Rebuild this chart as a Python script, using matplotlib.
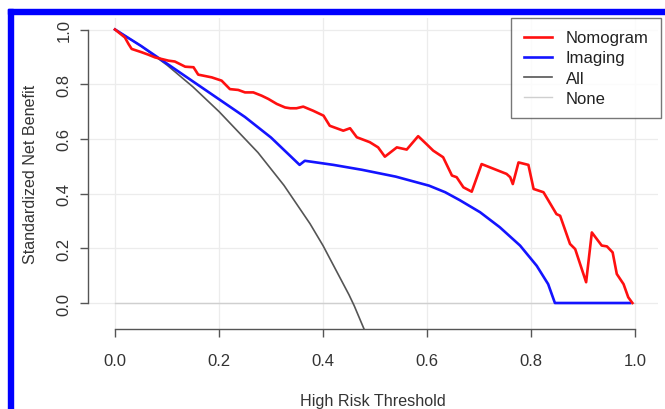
import matplotlib
matplotlib.use("Agg")
from matplotlib import pyplot as plt
from matplotlib.patches import Rectangle

plt.rcParams['font.family'] = ['Liberation Sans', 'DejaVu Sans']

# 数据
nomogram_x = [0, 0.019, 0.026, 0.032, 0.051, 0.064, 0.077, 0.103, 0.115, 0.135, 0.151, 0.16, 0.186,
              0.205, 0.221, 0.237, 0.25, 0.266, 0.282, 0.295, 0.311, 0.327, 0.337, 0.349, 0.362,
              0.381, 0.401, 0.413, 0.439, 0.452, 0.465, 0.49, 0.506, 0.519, 0.542, 0.561, 0.583,
              0.599, 0.612, 0.631, 0.648, 0.657, 0.670, 0.686, 0.705, 0.753, 0.760, 0.765, 0.776,
              0.795, 0.805, 0.824, 0.849, 0.856, 0.875, 0.885, 0.906, 0.917, 0.936, 0.946, 0.957,
              0.965, 0.978, 0.987, 0.995]
nomogram_y = [1.0, 0.971, 0.947, 0.929, 0.917, 0.908, 0.898, 0.886, 0.883, 0.864, 0.862, 0.835, 0.825,
              0.813, 0.782, 0.779, 0.770, 0.770, 0.758, 0.746, 0.728, 0.715, 0.712, 0.712, 0.718,
              0.703, 0.685, 0.648, 0.630, 0.639, 0.606, 0.588, 0.569, 0.535, 0.569, 0.561, 0.610,
              0.581, 0.557, 0.533, 0.466, 0.460, 0.423, 0.407, 0.508, 0.472, 0.460, 0.435, 0.514,
              0.505, 0.417, 0.405, 0.325, 0.319, 0.216, 0.197, 0.076, 0.258, 0.210, 0.207, 0.185,
              0.106, 0.069, 0.021, 0.0]

imaging_x = [0, 0.05, 0.1, 0.15, 0.2, 0.25, 0.3, 0.355, 0.365, 0.42, 0.475, 0.54, 0.604, 0.635,
             0.663, 0.702, 0.74, 0.779, 0.811, 0.833, 0.846, 0.99]
imaging_y = [1.0, 0.94, 0.875, 0.81, 0.745, 0.68, 0.605, 0.505, 0.52, 0.505, 0.487, 0.462, 0.429,
             0.405, 0.376, 0.332, 0.277, 0.21, 0.136, 0.069, 0.0, 0.0]

all_x = [0, 0.05, 0.1, 0.15, 0.2, 0.25, 0.275, 0.3, 0.325, 0.35, 0.375, 0.4, 0.425, 0.45, 0.46,
         0.48, 0.5]
all_y = [1.0, 0.94, 0.87, 0.79, 0.70, 0.60, 0.55, 0.49, 0.43, 0.36, 0.29, 0.21, 0.12, 0.03, -0.01,
         -0.10, -0.19]

none_x = [0, 1]
none_y = [0, 0]

ticks = [0.0, 0.2, 0.4, 0.6, 0.8, 1.0]
tick_labels = ['0.0', '0.2', '0.4', '0.6', '0.8', '1.0']

W, H = 665, 410
fig = plt.figure(figsize=(W / 100, H / 100), dpi=100)

# 蓝色边框（上、左）
fig.patches.append(Rectangle((8 / W, 0), 5 / W, (H - 10) / H, transform=fig.transFigure,
                             color='#0000ff', zorder=0))
fig.patches.append(Rectangle((8 / W, (H - 15) / H), (W - 8) / W, 5 / H, transform=fig.transFigure,
                             color='#0000ff', zorder=0))

ax = fig.add_axes([88 / W, (H - 330) / H, (658 - 88) / W, (330 - 19) / H])
x0 = 115
ppu = 520
ax.set_xlim((88 - x0) / ppu, (658 - x0) / ppu)
ax.set_ylim(-(330 - 304) / 273.5, (304 - 19) / 273.5)

for t in ticks:
    ax.axvline(t, color='#ececec', lw=0.9, zorder=0)
    ax.axhline(t, color='#ececec', lw=0.9, zorder=0)

ax.plot(none_x, none_y, color='#cfcfcf', lw=1.0, label='None', zorder=1)
ax.plot(all_x, all_y, color='#555555', lw=1.2, label='All', zorder=2)
ax.plot(imaging_x, imaging_y, color='#1414ff', lw=1.9, label='Imaging', zorder=3)
ax.plot(nomogram_x, nomogram_y, color='#ff1010', lw=1.9, label='Nomogram', zorder=4)

for s in ['top', 'right']:
    ax.spines[s].set_visible(False)
for s in ['left', 'bottom']:
    ax.spines[s].set_bounds(0, 1)
    ax.spines[s].set_color('#555555')
    ax.spines[s].set_linewidth(1.0)

ax.set_xticks(ticks)
ax.set_xticklabels(tick_labels)
ax.set_yticks(ticks)
ax.set_yticklabels(tick_labels, rotation=90, va='center')
ax.tick_params(axis='both', length=5.8, width=1.0, color='#555555', labelsize=12, labelcolor='#333333')
ax.tick_params(axis='x', pad=11.6)
ax.tick_params(axis='y', pad=6)

ax.set_xlabel('High Risk Threshold', fontsize=11.6, color='#333333', labelpad=17.7)
ax.set_ylabel('Standardized Net Benefit', fontsize=11.6, color='#333333', labelpad=13.6)

handles, labels = ax.get_legend_handles_labels()
order = [3, 2, 1, 0]
leg = ax.legend([handles[i] for i in order], [labels[i] for i in order],
                loc='upper right', bbox_to_anchor=(661 / W, (H - 19) / H),
                bbox_transform=fig.transFigure, fontsize=12, frameon=True, fancybox=False,
                handlelength=1.7, handletextpad=0.8, labelspacing=0.3, borderpad=0.75,
                borderaxespad=0)
leg.get_frame().set_edgecolor('#555555')
leg.get_frame().set_linewidth(1.0)
for t in leg.get_texts():
    t.set_color('#222222')

fig.savefig('out.png', dpi=100)
